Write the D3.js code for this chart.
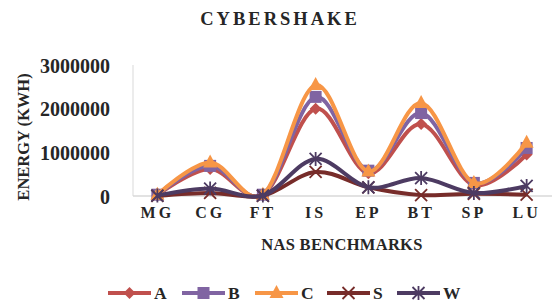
<!DOCTYPE html>
<html><head><meta charset="utf-8">
<script src="https://cdn.jsdelivr.net/npm/d3@7"></script>
<style>body{margin:0;background:#fff}svg{display:block}</style>
</head><body>
<svg id="c" width="552" height="307"></svg>
<script>
const categories = ["MG","CG","FT","IS","EP","BT","SP","LU"];
const seriesNames = ["A","B","C","S","W"];
const valuesA = [20000, 620000, 20000, 2000000, 520000, 1650000, 250000, 950000];
const valuesB = [30000, 690000, 30000, 2270000, 580000, 1900000, 300000, 1100000];
const valuesC = [30000, 770000, 30000, 2540000, 560000, 2130000, 300000, 1220000];
const valuesS = [5000, 70000, 5000, 550000, 200000, 20000, 50000, 30000];
const valuesW = [10000, 170000, 10000, 850000, 200000, 410000, 70000, 230000];
const yTicks = [0, 1000000, 2000000, 3000000];
const colors = ["#C0504D","#8064A2","#F79646","#772C2A","#4D3B62"];
const markers = ["diamond","square","triangle","x","star"];
const allValues = [valuesA, valuesB, valuesC, valuesS, valuesW];

(function(){
const svg = d3.select("#c");
const font = "'Liberation Serif', serif";
const pl = 131, pr = 553, pt = 65, pb = 196;
const x = d3.scaleBand().domain(categories).range([pl, pr]);
const y = d3.scaleLinear().domain([0, 3000000]).range([pb, pt]);

svg.append("line").attr("x1", pl+2).attr("x2", pl+2).attr("y1", pt).attr("y2", pb)
  .attr("stroke", "#d9d9d9").attr("stroke-width", 1);
svg.append("line").attr("x1", pl+2).attr("x2", pr).attr("y1", pb).attr("y2", pb)
  .attr("stroke", "#d9d9d9").attr("stroke-width", 1.5);

const yAxis = d3.axisLeft(y).tickValues(yTicks).tickSize(0).tickPadding(0).tickFormat(d3.format("d"));
const gy = svg.append("g").attr("transform", `translate(${pl-21},0)`).call(yAxis);
gy.select(".domain").remove();
gy.selectAll("text").attr("font-family", font).attr("font-weight", "bold")
  .attr("font-size", 20).attr("fill", "#262626").attr("dy", "0.35em");

const xAxis = d3.axisBottom(x).tickSize(0).tickPadding(0);
const gx = svg.append("g").attr("transform", `translate(0,${pb+8})`).call(xAxis);
gx.select(".domain").remove();
gx.selectAll("text").attr("font-family", font).attr("font-weight", "bold")
  .attr("font-size", 16).attr("fill", "#262626").attr("letter-spacing", 3).attr("dy", "0.9em");

svg.append("text").attr("x", 280).attr("y", 25).attr("text-anchor", "middle")
  .attr("font-family", font).attr("font-weight", "bold").attr("font-size", 18.5)
  .attr("letter-spacing", 3).attr("fill", "#262626").text("CYBERSHAKE");
svg.append("text").attr("x", 342).attr("y", 250).attr("text-anchor", "middle")
  .attr("font-family", font).attr("font-weight", "bold").attr("font-size", 16.5)
  .attr("letter-spacing", 0.3).attr("fill", "#262626").text("NAS BENCHMARKS");
svg.append("text").attr("transform", "translate(29,137) rotate(-90)").attr("text-anchor", "middle")
  .attr("font-family", font).attr("font-weight", "bold").attr("font-size", 16.5)
  .attr("fill", "#262626").text("ENERGY (KWH)");

function drawMarker(g, type, cx, cy, color) {
  if (type === "diamond") {
    g.append("path").attr("d", `M${cx},${cy-6}L${cx+6},${cy}L${cx},${cy+6}L${cx-6},${cy}Z`).attr("fill", color);
  } else if (type === "square") {
    g.append("rect").attr("x", cx-6).attr("y", cy-6).attr("width", 12).attr("height", 12).attr("fill", color);
  } else if (type === "triangle") {
    g.append("path").attr("d", `M${cx},${cy-8}L${cx+7},${cy+5}L${cx-7},${cy+5}Z`).attr("fill", color);
  } else if (type === "x") {
    g.append("path").attr("d", `M${cx-6},${cy-6}L${cx+6},${cy+6}M${cx+6},${cy-6}L${cx-6},${cy+6}`)
      .attr("stroke", color).attr("stroke-width", 1.8);
  } else if (type === "star") {
    g.append("path").attr("d", `M${cx-6},${cy-6}L${cx+6},${cy+6}M${cx+6},${cy-6}L${cx-6},${cy+6}M${cx},${cy-7}L${cx},${cy+7}`)
      .attr("stroke", color).attr("stroke-width", 1.8);
  }
}

const line = d3.line().x((d, i) => x(categories[i]) + x.bandwidth()/2).y(d => y(d))
  .curve(d3.curveCardinal.tension(0));

allValues.forEach((vals, si) => {
  const g = svg.append("g");
  g.append("path").datum(vals).attr("d", line).attr("fill", "none")
    .attr("stroke", colors[si]).attr("stroke-width", 4).attr("stroke-linejoin", "round");
  vals.forEach((v, i) => drawMarker(g, markers[si], x(categories[i]) + x.bandwidth()/2, y(v), colors[si]));
});

const legendX = [108, 182, 255, 327, 397];
seriesNames.forEach((n, si) => {
  const g = svg.append("g");
  const lx = legendX[si], ly = 293;
  g.append("line").attr("x1", lx).attr("x2", lx+43).attr("y1", ly).attr("y2", ly)
    .attr("stroke", colors[si]).attr("stroke-width", 4);
  drawMarker(g, markers[si], lx+21.5, ly, colors[si]);
  g.append("text").attr("x", lx+46).attr("y", ly).attr("dy", "0.35em")
    .attr("font-family", font).attr("font-weight", "bold").attr("font-size", 17.5)
    .attr("fill", "#262626").text(n);
});
})();
</script>
</body></html>
